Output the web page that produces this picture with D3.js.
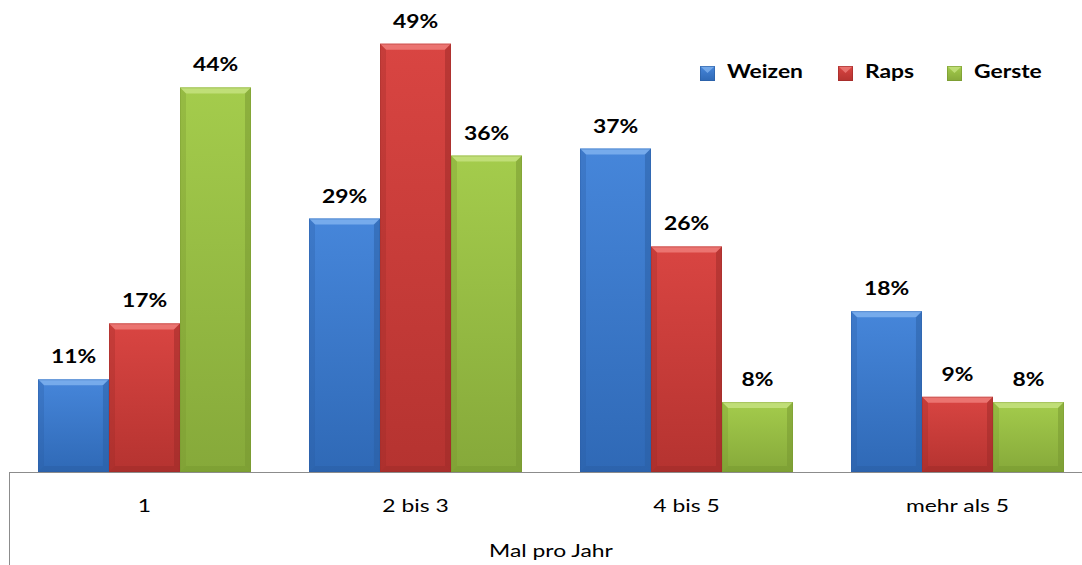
<!DOCTYPE html>
<html><head><meta charset="utf-8">
<script src="https://cdn.jsdelivr.net/npm/d3@7"></script>
<style>
html,body{margin:0;padding:0;background:#fff;}
svg{display:block;font-family:Lato,"Open Sans",sans-serif;}
</style></head>
<body>
<svg id="chart" width="1082" height="565"></svg>
<script>
const categories = ["1", "2 bis 3", "4 bis 5", "mehr als 5"];
const seriesNames = ["Weizen", "Raps", "Gerste"];
const weizen = [10.6, 29, 37, 18.4];
const raps = [17, 49, 25.8, 8.6];
const gerste = [44, 36.2, 8, 8];
const axisTitle = "Mal pro Jahr";

const seriesValues = [weizen, raps, gerste];
const palette = {
  Weizen: {top:"#4686da", bottom:"#2f69b6", light:"#7fb1ee", dark:"#2a5da2"},
  Raps:   {top:"#d94542", bottom:"#b53330", light:"#ee7d79", dark:"#9c2a28"},
  Gerste: {top:"#a4cc4c", bottom:"#86a93a", light:"#c6e27f", dark:"#76962f"}
};
const SX = 1.27; // horizontal text stretch of the reference rendering

const svg = d3.select("#chart");
const base = 472, left = 9, right = 1093;
const x0 = d3.scaleBand().domain(categories).range([left, right]).paddingInner(0.214).paddingOuter(0.107);
const x1 = d3.scaleBand().domain(seriesNames).range([0, x0.bandwidth()]);
const y = d3.scaleLinear().domain([0, 54]).range([base, 0]);

const defs = svg.append("defs");
seriesNames.forEach(n => {
  const g = defs.append("linearGradient").attr("id","g-"+n).attr("x1",0).attr("y1",0).attr("x2",0).attr("y2",1);
  g.append("stop").attr("offset","0%").attr("stop-color",palette[n].top);
  g.append("stop").attr("offset","100%").attr("stop-color",palette[n].bottom);
});

const data = [];
categories.forEach((c,i) => seriesNames.forEach((s,j) => data.push({c, s, v: seriesValues[j][i]})));

const bev = 6;
const bars = svg.append("g").selectAll("g").data(data).join("g")
  .attr("transform", d => `translate(${x0(d.c)+x1(d.s)},0)`);
bars.each(function(d){
  const g = d3.select(this);
  const w = x1.bandwidth(), t = y(d.v), b = y(0), p = palette[d.s];
  g.append("rect").attr("x",0).attr("y",t).attr("width",w).attr("height",b-t).attr("fill",`url(#g-${d.s})`);
  g.append("path").attr("d",`M0,${t}L${w},${t}L${w-bev},${t+bev}L${bev},${t+bev}Z`).attr("fill",p.light).attr("opacity",0.85);
  g.append("path").attr("d",`M0,${t}L${bev},${t+bev}L${bev},${b-bev}L0,${b}Z`).attr("fill",p.dark).attr("opacity",0.3);
  g.append("path").attr("d",`M${w},${t}L${w-bev},${t+bev}L${w-bev},${b-bev}L${w},${b}Z`).attr("fill",p.dark).attr("opacity",0.5);
  g.append("path").attr("d",`M0,${b}L${bev},${b-bev}L${w-bev},${b-bev}L${w},${b}Z`).attr("fill",p.dark).attr("opacity",0.45);
  g.append("rect").attr("x",0.5).attr("y",t+0.5).attr("width",w-1).attr("height",b-t-1).attr("fill","none").attr("stroke",p.dark).attr("stroke-opacity",0.35);
});

// value labels
svg.append("g").selectAll("text").data(data).join("text")
  .attr("transform", d => `translate(${x0(d.c)+x1(d.s)+x1.bandwidth()/2},${y(d.v)-16}) scale(${SX},1)`)
  .attr("text-anchor","middle")
  .attr("font-size",18).attr("font-weight",700).attr("fill","#000")
  .text(d => Math.round(d.v)+"%");

// axis
const axis = d3.axisBottom(x0).tickSize(0).tickPadding(0);
const ax = svg.append("g").attr("transform",`translate(0,${base})`).call(axis);
ax.select(".domain").attr("stroke","#8c8c8c").attr("d",`M${left},0.5H${right}`);
ax.selectAll(".tick text").attr("font-size",18).attr("font-family","Lato,'Open Sans',sans-serif").attr("fill","#000")
  .attr("dy",0).attr("y",0).attr("transform",`translate(0,40) scale(${SX},1)`);
svg.append("line").attr("x1",left+0.5).attr("x2",left+0.5).attr("y1",base).attr("y2",565).attr("stroke","#8c8c8c");
svg.append("text").attr("transform",`translate(${(left+right)/2},557) scale(${SX},1)`).attr("text-anchor","middle").attr("font-size",18).text(axisTitle);

// legend
const legX = [700, 838, 947];
const leg = svg.append("g").selectAll("g").data(seriesNames).join("g")
  .attr("transform",(d,i)=>`translate(${legX[i]},66)`);
leg.append("rect").attr("width",15).attr("height",15).attr("fill",d=>`url(#g-${d})`);
leg.append("path").attr("d","M0,0L15,0L7.5,7Z").attr("fill",d=>palette[d].light).attr("opacity",0.8);
leg.append("rect").attr("x",0.5).attr("y",0.5).attr("width",14).attr("height",14).attr("fill","none").attr("stroke",d=>palette[d].dark).attr("stroke-opacity",0.6);
leg.append("text").attr("transform",`translate(27,11.5) scale(${SX},1)`).attr("font-size",18).attr("font-weight",700).text(d=>d);
</script>
</body></html>
